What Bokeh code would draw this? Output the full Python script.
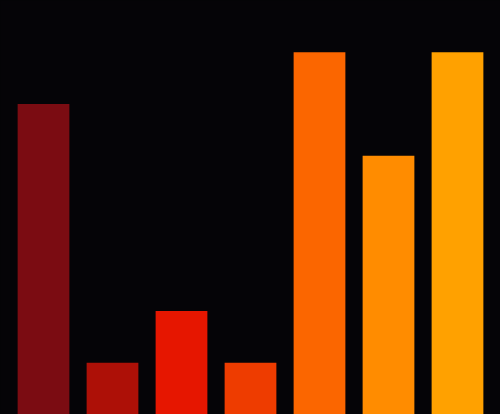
from bokeh.plotting import figure
from bokeh.models import FactorRange, Range1d, ColumnDataSource, GlobalInlineStyleSheet
from bokeh.embed import file_html
from bokeh.resources import INLINE

categories = ["A", "B", "C", "D", "E", "F", "G"]
values = [6, 1, 2, 1, 7, 5, 7]
colors = ["#7b0c12", "#ad1007", "#e61600", "#ee3c00", "#fb6600", "#ff8c00", "#ffa100"]

BG = "#050407"

src = ColumnDataSource(dict(cat=categories, val=values, color=colors))

p = figure(
    width=500, height=414,
    x_range=FactorRange(factors=categories, range_padding=17 / 483),
    y_range=Range1d(0, 8),
    output_backend="svg", toolbar_location=None,
    min_border=0, min_border_left=0, min_border_right=0,
    min_border_top=0, min_border_bottom=0,
)
p.vbar(x="cat", top="val", width=0.75, fill_color="color", line_color=None, source=src)

p.axis.visible = False
p.xaxis.visible = False
p.yaxis.visible = False
p.grid.visible = False
p.outline_line_color = None
p.background_fill_color = BG
p.border_fill_color = BG
p.stylesheets = [GlobalInlineStyleSheet(css=f"html, body {{ background: {BG}; margin: 0; padding: 0; overflow: hidden; }}")]

open("out.html", "w").write(file_html(p, INLINE))
